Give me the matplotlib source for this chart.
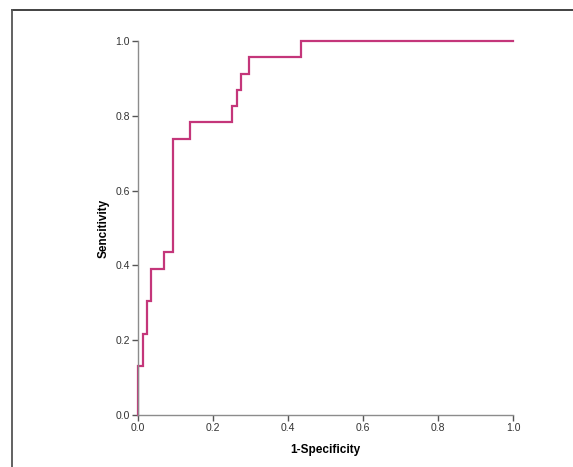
import matplotlib.pyplot as plt
from matplotlib.lines import Line2D

plt.rcParams['font.family'] = ['Liberation Sans', 'DejaVu Sans']

# ROC curve step points (1-specificity, sensitivity)
fpr = [0.0, 0.0, 0.014, 0.014, 0.025, 0.025, 0.036, 0.036, 0.070, 0.070,
       0.093, 0.093, 0.139, 0.139, 0.252, 0.252, 0.263, 0.263, 0.275, 0.275,
       0.297, 0.297, 0.434, 0.434, 1.0]
tpr = [0.0, 0.130, 0.130, 0.217, 0.217, 0.304, 0.304, 0.391, 0.391, 0.435,
       0.435, 0.739, 0.739, 0.783, 0.783, 0.826, 0.826, 0.870, 0.870, 0.913,
       0.913, 0.957, 0.957, 1.0, 1.0]
ticks = [0.0, 0.2, 0.4, 0.6, 0.8, 1.0]

fig = plt.figure(figsize=(5.73, 4.67), dpi=100)
ax = fig.add_axes([0.2408, 0.1113, 0.6545, 0.8009])

ax.plot(fpr, tpr, color='#c4367a', lw=1.6, solid_joinstyle='miter', clip_on=False)

ax.set_xlim(0, 1)
ax.set_ylim(0, 1)
ax.set_xticks(ticks)
ax.set_yticks(ticks)
ax.set_xticklabels(['%.1f' % t for t in ticks])
ax.set_yticklabels(['%.1f' % t for t in ticks])
for side in ['top', 'right']:
    ax.spines[side].set_visible(False)
for side in ['left', 'bottom']:
    ax.spines[side].set_color('#8c8c8c')
    ax.spines[side].set_linewidth(1.0)
ax.tick_params(direction='out', length=4, width=1, color='#555555',
               labelsize=7.5, labelcolor='#333333', pad=2)

ax.set_xlabel('1-Specificity', fontsize=8.5, fontweight='bold', labelpad=8)
ax.set_ylabel('Sencitivity', fontsize=8.5, fontweight='bold', labelpad=4)

# frame lines on top and left of the picture
fig.add_artist(Line2D([12/573, 1], [1 - 10/467, 1 - 10/467], color='#333333', lw=1.3,
                      transform=fig.transFigure))
fig.add_artist(Line2D([12/573, 12/573], [0, 1 - 10/467], color='#555555', lw=1.3,
                      transform=fig.transFigure))

fig.savefig('out.png', dpi=100)
